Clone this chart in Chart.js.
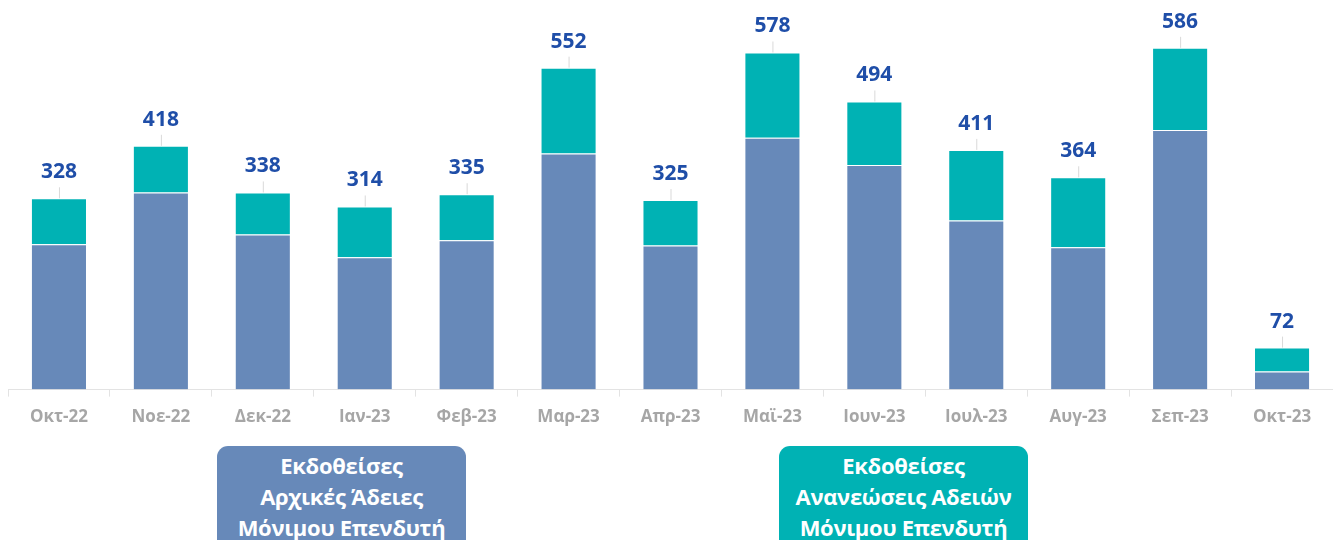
<!DOCTYPE html>
<html>
<head>
<meta charset="utf-8">
<script src="https://cdn.jsdelivr.net/npm/chart.js@4.4.1/dist/chart.umd.min.js"></script>
<style>
  html,body{margin:0;padding:0;background:#fff;overflow:hidden;}
  #wrap{position:relative;width:1333px;height:540px;}
  #cv{position:absolute;left:0;top:0;}
  .box{position:absolute;top:446px;width:249px;height:110px;border-radius:11px;color:#fff;
       font-family:"Open Sans",sans-serif;font-weight:700;font-size:22px;line-height:31px;text-align:center;
       padding-top:4px;box-sizing:border-box;letter-spacing:-0.3px;}
</style>
</head>
<body>
<div id="wrap">
  <canvas id="cv" width="1333" height="440"></canvas>
  <div class="box" id="b1" style="left:217px;background:#6789B9;"></div>
  <div class="box" id="b2" style="left:779px;background:#00B2B4;"></div>
</div>
<script>
const categories = ["Οκτ-22","Νοε-22","Δεκ-22","Ιαν-23","Φεβ-23","Μαρ-23","Απρ-23","Μαϊ-23","Ιουν-23","Ιουλ-23","Αυγ-23","Σεπ-23","Οκτ-23"];
const initialPermits = [249, 338, 266, 227, 256, 405, 247, 432, 385, 290, 244, 445, 31];
const renewals       = [79, 80, 72, 87, 79, 147, 78, 146, 109, 121, 120, 141, 41];
const totals         = [328, 418, 338, 314, 335, 552, 325, 578, 494, 411, 364, 586, 72];
const seriesNames = ["Εκδοθείσες\nΑρχικές Άδειες\nΜόνιμου Επενδυτή", "Εκδοθείσες\nΑνανεώσεις Αδειών\nΜόνιμου Επενδυτή"];

document.getElementById('b1').innerHTML = seriesNames[0].split('\n').join('<br>');
document.getElementById('b2').innerHTML = seriesNames[1].split('\n').join('<br>');

const totalsPlugin = {
  id: 'totals',
  afterDatasetsDraw(chart) {
    const ctx = chart.ctx;
    const meta = chart.getDatasetMeta(1);
    ctx.save();
    meta.data.forEach((bar, i) => {
      const x = bar.x, y = bar.y;
      ctx.strokeStyle = '#D9D9D9';
      ctx.lineWidth = 1;
      ctx.beginPath();
      ctx.moveTo(x + 0.5, y);
      ctx.lineTo(x + 0.5, y - 11);
      ctx.stroke();
      ctx.fillStyle = '#1F4EA8';
      ctx.font = 'bold 21px "Open Sans", sans-serif';
      ctx.textAlign = 'center';
      ctx.textBaseline = 'middle';
      ctx.fillText(String(totals[i]), x, y - 26);
    });
    ctx.restore();
  }
};

new Chart(document.getElementById('cv'), {
  type: 'bar',
  data: {
    labels: categories,
    datasets: [
      { label: seriesNames[0], data: initialPermits, backgroundColor: '#6789B9', borderColor: 'rgba(255,255,255,0.45)', borderWidth: 1, categoryPercentage: 1, barPercentage: 0.55 },
      { label: seriesNames[1], data: renewals, backgroundColor: '#00B2B4', borderColor: 'rgba(255,255,255,0.45)', borderWidth: 1, categoryPercentage: 1, barPercentage: 0.55 }
    ]
  },
  options: {
    responsive: false,
    animation: false,
    layout: { padding: { left: 8, right: 0, top: 0, bottom: 3 } },
    plugins: { legend: { display: false }, tooltip: { enabled: false } },
    scales: {
      x: {
        stacked: true,
        grid: { offset: true, drawOnChartArea: false, drawTicks: true, tickLength: 7, color: '#E3E3E3' },
        border: { display: true, color: '#E3E3E3' },
        ticks: { color: '#A6A6A6', font: { family: '"Open Sans", sans-serif', size: 17, weight: 'bold' }, padding: 10 }
      },
      y: {
        stacked: true, display: false, min: 0, max: 668
      }
    }
  },
  plugins: [totalsPlugin]
});
</script>
</body>
</html>
